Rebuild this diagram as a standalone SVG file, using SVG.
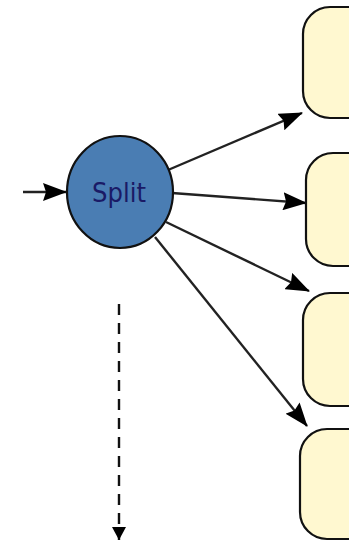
<svg xmlns="http://www.w3.org/2000/svg" width="349" height="541" viewBox="0 0 349 541">
<style>
.box{fill:#fff8d0;stroke:#111;stroke-width:2.2}
.edge{stroke:#222;stroke-width:2.4;fill:none}
.dash{stroke:#111;stroke-width:2.4;fill:none;stroke-dasharray:11 8}
.lbl{font-family:"DejaVu Sans",Verdana,sans-serif;font-size:26px;fill:#1a1a66}
</style>
<defs>
<marker id="ah" markerUnits="userSpaceOnUse" markerWidth="24" markerHeight="18" refX="23" refY="9" orient="auto">
<path d="M0,0 L24,9 L0,18 L3,9 z" fill="#000"/>
</marker>
<marker id="ahs" markerUnits="userSpaceOnUse" markerWidth="13" markerHeight="14" refX="13" refY="7" orient="auto">
<path d="M0,0 L13,7 L0,14 z" fill="#000"/>
</marker>
</defs>
<g id="connectors">
<line class="edge" x1="23" y1="192" x2="66" y2="192" marker-end="url(#ah)"/>
<line class="edge" x1="168" y1="170" x2="302" y2="113" marker-end="url(#ah)"/>
<line class="edge" x1="172" y1="193" x2="306" y2="203" marker-end="url(#ah)"/>
<line class="edge" x1="166" y1="222" x2="309" y2="291" marker-end="url(#ah)"/>
<line class="edge" x1="155" y1="237" x2="307" y2="426" marker-end="url(#ah)"/>
<line class="dash" x1="119" y1="304" x2="119" y2="540" marker-end="url(#ahs)"/>
</g>
<g id="split">
<ellipse cx="120" cy="192" rx="53" ry="56" fill="#4a7db3" stroke="#111" stroke-width="2.2"/>
<text class="lbl" x="119" y="202" text-anchor="middle" textLength="54" lengthAdjust="spacingAndGlyphs">Split</text>
</g>
<g id="box1"><rect class="box" x="303" y="7" width="90" height="111" rx="27" ry="27"/></g>
<g id="box2"><rect class="box" x="306" y="153" width="90" height="113" rx="27" ry="27"/></g>
<g id="box3"><rect class="box" x="303" y="293" width="90" height="113" rx="27" ry="27"/></g>
<g id="box4"><rect class="box" x="300" y="429" width="90" height="110" rx="27" ry="27"/></g>
</svg>
